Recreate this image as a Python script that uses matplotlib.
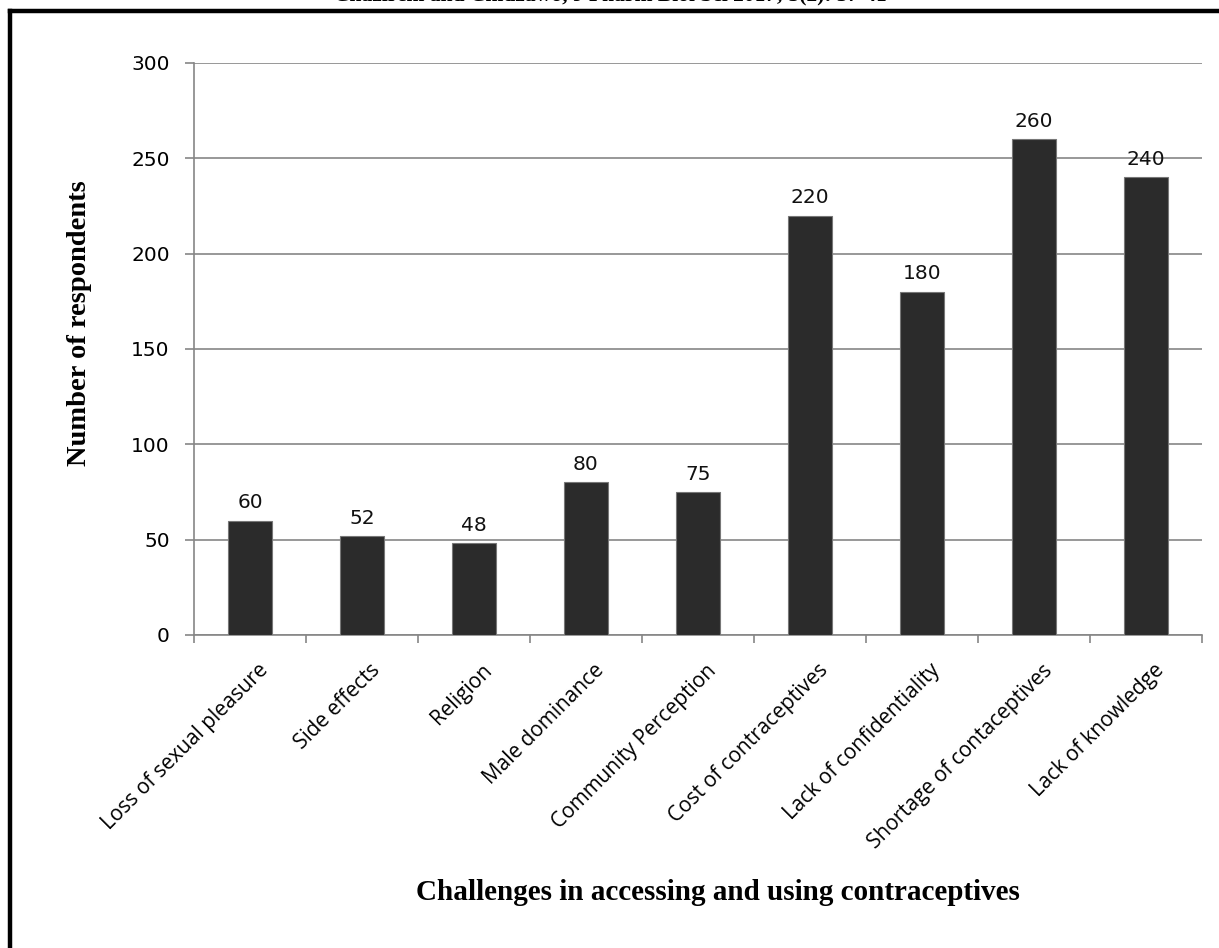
import matplotlib
matplotlib.use("Agg")
import matplotlib.pyplot as plt
import matplotlib.transforms as mtransforms
from matplotlib.lines import Line2D
import numpy as np

# data
challenges = ["Loss of sexual pleasure", "Side effects", "Religion", "Male dominance",
              "Community Perception", "Cost of contraceptives", "Lack of confidentiality",
              "Shortage of contaceptives", "Lack of knowledge"]
respondents = [60, 52, 48, 80, 75, 220, 180, 260, 240]
y_ticks = [0, 50, 100, 150, 200, 250, 300]

W, H = 1219, 948
fig = plt.figure(figsize=(W / 100, H / 100), dpi=100)
ax = fig.add_axes([194 / W, 1 - 635 / H, (1202 - 194) / W, (635 - 63) / H])

grey = "#868686"
x = np.arange(len(challenges))
ax.bar(x, respondents, width=0.39, color="#2b2b2b", edgecolor="#777777", linewidth=0.8, zorder=3)

for xi, v in zip(x, respondents):
    ax.annotate(str(v), (xi, v), xytext=(0, 6), textcoords="offset points",
                ha="center", va="bottom", fontsize=14.5, family="DejaVu Sans", color="#111111")

ax.set_xlim(-0.5, len(challenges) - 0.5)
ax.set_ylim(0, 300)
ax.set_yticks(y_ticks)
ax.yaxis.grid(True, color=grey, linewidth=1.2, zorder=0)
ax.tick_params(axis="y", length=6.5, color=grey, width=1.2, labelsize=14.5, pad=11)

ax.set_xticks(x)
ax.set_xticklabels(challenges, rotation=45, ha="right", rotation_mode="anchor",
                   fontsize=15, family="Open Sans")
ax.tick_params(axis="x", which="major", length=0, pad=18)
shift = mtransforms.ScaledTranslation(8 / 100, 0, fig.dpi_scale_trans)
for lab in ax.get_xticklabels():
    lab.set_transform(lab.get_transform() + shift)
ax.set_xticks(np.arange(len(challenges) + 1) - 0.5, minor=True)
ax.tick_params(axis="x", which="minor", length=6, color=grey, width=1.2)

for s in ["top", "right"]:
    ax.spines[s].set_visible(False)
for s in ["left", "bottom"]:
    ax.spines[s].set_color(grey)
    ax.spines[s].set_linewidth(1.2)

fig.text(80 / W, 1 - 323 / H, "Number of respondents", rotation=90, ha="center", va="center",
         fontsize=20.5, fontweight="bold", family="Liberation Serif")
fig.text(718 / W, 1 - 893 / H, "Challenges in accessing and using contraceptives",
         ha="center", va="center", fontsize=21, fontweight="bold", family="Liberation Serif")

# header line, cut off at the top of the page
fig.text(610 / W, 1 + 5 / H, "Chazireni and Chidzawo, J Pharm Biol Sci 2017; 5(2): 37-41",
         ha="center", va="center", fontsize=15.5, fontweight="bold", family="Liberation Serif")

# page frame
fig.add_artist(Line2D([10 / W, 10 / W], [0, 1 - 11 / H], color="black", linewidth=3.2,
                      transform=fig.transFigure, solid_capstyle="projecting"))
fig.add_artist(Line2D([10 / W, 1], [1 - 11 / H, 1 - 11 / H], color="black", linewidth=3.2,
                      transform=fig.transFigure, solid_capstyle="projecting"))

fig.savefig("out.png", dpi=100)
